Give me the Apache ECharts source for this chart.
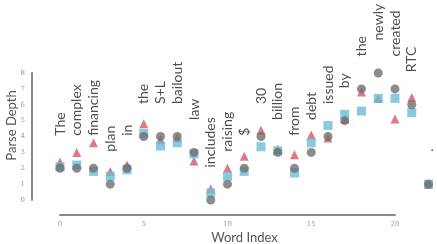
<!DOCTYPE html>
<html>
<head>
<meta charset="utf-8">
<script src="https://cdn.jsdelivr.net/npm/echarts@6/dist/echarts.min.js"></script>
<style>
  html, body { margin: 0; padding: 0; background: #fff; }
  #chart { width: 437px; height: 244px; }
</style>
</head>
<body>
<div id="chart"></div>
<script>
// words of the sentence, one per index
const words = ['The', 'complex', 'financing', 'plan', 'in', 'the', 'S+L', 'bailout', 'law',
  'includes', 'raising', '$', '30', 'billion', 'from', 'debt', 'issued', 'by', 'the',
  'newly', 'created', 'RTC', '.'];
// gold parse depth (grey circles)
const goldDepth = [2, 2, 2, 1, 2, 4, 4, 4, 3, 0, 1, 2, 4, 3, 2, 3, 4, 5, 7, 8, 7, 6, 1];
// red triangles
const predA = [2.4, 3.0, 3.6, 1.8, 2.2, 4.8, 3.8, 3.9, 2.45, 0.7, 2.0, 2.75, 4.4, 3.2, 2.85, 4.1, 3.9, 5.1, 6.8, 6.4, 5.1, 6.45, 1.0];
// blue squares
const predB = [2.1, 2.2, 1.8, 1.5, 1.9, 4.2, 3.4, 3.6, 2.9, 0.45, 1.5, 1.8, 3.35, 3.1, 1.7, 3.6, 4.7, 5.4, 5.6, 6.4, 6.4, 5.5, 1.0];
const xTicks = [0, 5, 10, 15, 20];
const yTicks = [0, 1, 2, 3, 4, 5, 6, 7, 8];

const pts = arr => arr.map((v, i) => [i, v]);

const chart = echarts.init(document.getElementById('chart'));
const option = {
  animation: false,
  grid: { left: 60, right: 42, top: 73, bottom: 44, outerBoundsMode: 'none', containLabel: false },
  xAxis: {
    type: 'value',
    min: 0,
    max: 20,
    interval: 5,
    offset: 15,
    name: 'Word Index',
    nameLocation: 'middle',
    nameGap: 16,
    nameMoveOverlap: false,
    nameTextStyle: { fontFamily: 'Lato', fontSize: 13, color: '#555', padding: [0, 0, 0, 34] },
    axisLine: { show: true, onZero: false, lineStyle: { color: '#888', width: 2 } },
    axisTick: { show: false },
    splitLine: { show: false },
    axisLabel: {
      customValues: xTicks,
      margin: 6,
      fontFamily: 'DejaVu Serif',
      fontSize: 7,
      color: '#999'
    }
  },
  yAxis: {
    type: 'value',
    min: 0,
    max: 8,
    interval: 1,
    offset: 28,
    name: 'Parse Depth',
    nameLocation: 'middle',
    nameGap: 14,
    nameRotate: 90,
    nameMoveOverlap: false,
    nameTextStyle: { fontFamily: 'Lato', fontSize: 13, color: '#555', padding: [0, 0, 0, 22] },
    axisLine: { show: true, onZero: false, lineStyle: { color: '#888', width: 2 } },
    axisTick: { show: false },
    splitLine: { show: false },
    axisLabel: {
      customValues: yTicks,
      margin: 7,
      fontFamily: 'DejaVu Serif',
      fontSize: 7,
      color: '#999'
    }
  },
  series: [
    {
      type: 'scatter',
      clip: false,
      symbol: 'triangle',
      symbolSize: 9,
      itemStyle: { color: '#d6636e', opacity: 0.85 },
      data: pts(predA),
      z: 2
    },
    {
      type: 'scatter',
      clip: false,
      symbol: 'rect',
      symbolSize: 9,
      itemStyle: { color: '#6cbdd6', opacity: 0.8 },
      data: pts(predB),
      z: 3
    },
    {
      type: 'scatter',
      clip: false,
      symbol: 'circle',
      symbolSize: 9,
      itemStyle: { color: '#6f6f6f', opacity: 0.8 },
      data: pts(goldDepth),
      z: 4,
      label: {
        show: true,
        position: 'top',
        distance: 28,
        rotate: 90,
        align: 'left',
        verticalAlign: 'middle',
        fontFamily: 'Lato',
        fontSize: 14,
        color: '#222',
        formatter: p => words[p.dataIndex]
      }
    }
  ]
};
chart.setOption(option);
</script>
</body>
</html>
